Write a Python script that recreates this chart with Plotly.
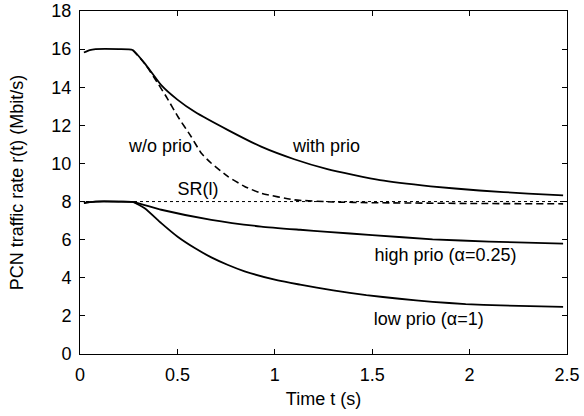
import plotly.graph_objects as go

# with prio (solid, upper)
t_with = [0.02, 0.05, 0.08, 0.2, 0.27, 0.34, 0.417, 0.5, 0.589, 0.76, 0.93, 1.1, 1.27, 1.54, 1.8, 2.05, 2.3, 2.48]
v_with = [15.82, 15.95, 16.0, 16.0, 15.95, 15.15, 14.11, 13.35, 12.71, 11.75, 10.88, 10.22, 9.7, 9.12, 8.8, 8.58, 8.42, 8.32]

# w/o prio (dashed)
t_wo = [0.27, 0.332, 0.40, 0.443, 0.503, 0.571, 0.623, 0.674, 0.76, 0.845, 0.93, 1.1, 1.3, 1.5, 2.0, 2.48]
v_wo = [15.95, 15.25, 14.2, 13.5, 12.45, 11.4, 10.53, 10.01, 9.31, 8.79, 8.44, 8.09, 7.98, 7.94, 7.9, 7.88]

# high prio (alpha=0.25)
t_high = [0.02, 0.05, 0.08, 0.2, 0.27, 0.417, 0.674, 0.93, 1.13, 1.27, 1.5, 1.81, 2.1, 2.48]
v_high = [7.92, 7.97, 8.0, 8.0, 7.98, 7.57, 7.04, 6.69, 6.52, 6.41, 6.24, 6.02, 5.9, 5.79]

# low prio (alpha=1)
t_low = [0.02, 0.05, 0.08, 0.2, 0.27, 0.332, 0.417, 0.503, 0.589, 0.674, 0.76, 0.845, 1.016, 1.13, 1.3, 1.47, 1.64, 1.81, 1.98, 2.16, 2.48]
v_low = [7.92, 7.97, 8.0, 8.0, 7.98, 7.65, 6.87, 6.14, 5.56, 5.07, 4.67, 4.34, 3.86, 3.64, 3.34, 3.09, 2.9, 2.74, 2.62, 2.55, 2.47]

# SR(l)
t_sr = [0.0, 2.5]
v_sr = [8.0, 8.0]

labels = ["with prio", "w/o prio", "SR(l)", "high prio (α=0.25)", "low prio (α=1)"]
label_t = [1.265, 0.413, 0.606, 1.876, 1.79]
label_v = [10.85, 10.85, 8.6, 5.1, 1.75]

x_ticks = [0, 0.5, 1, 1.5, 2, 2.5]
x_tick_text = ["0", "0.5", "1", "1.5", "2", "2.5"]
y_ticks = [0, 2, 4, 6, 8, 10, 12, 14, 16, 18]

FONT = "Liberation Sans, Arial, sans-serif"
FS = 18

fig = go.Figure()
fig.add_trace(go.Scatter(x=t_sr, y=v_sr, mode="lines",
                         line=dict(color="black", width=1, dash="3px,3px")))
fig.add_trace(go.Scatter(x=t_wo, y=v_wo, mode="lines",
                         line=dict(color="black", width=1.6, dash="7px,4px", shape="spline", smoothing=0.5)))
for tx, vy in [(t_with, v_with), (t_high, v_high), (t_low, v_low)]:
    fig.add_trace(go.Scatter(x=tx, y=vy, mode="lines",
                             line=dict(color="black", width=1.8, shape="spline", smoothing=0.5)))

fig.add_trace(go.Scatter(x=label_t, y=label_v, mode="text", text=labels,
                         textposition="middle center",
                         textfont=dict(family=FONT, size=FS, color="black")))

axis_common = dict(showgrid=False, zeroline=False, showline=True, linecolor="black",
                   linewidth=1, mirror="allticks", ticks="inside", ticklen=5,
                   tickcolor="black", automargin=False,
                   tickfont=dict(family=FONT, size=FS, color="black"))

fig.update_xaxes(range=[0, 2.5], tickvals=x_ticks, ticktext=x_tick_text,
                 ticklabelstandoff=4,
                 title=dict(text="Time t (s)", font=dict(family=FONT, size=FS, color="black"), standoff=8),
                 **axis_common)
fig.update_yaxes(range=[0, 18], tickvals=y_ticks, ticklabelstandoff=4,
                 title=dict(text="PCN traffic rate r(t) (Mbit/s)", font=dict(family=FONT, size=FS, color="black"), standoff=23),
                 **axis_common)

fig.update_layout(width=584, height=416, showlegend=False,
                  margin=dict(l=80, r=17, t=11, b=62),
                  plot_bgcolor="white", paper_bgcolor="white",
                  font=dict(family=FONT, size=FS, color="black"))

fig.write_html("out.html", config={"displayModeBar": False},
               post_script="document.body.style.margin='0';")
